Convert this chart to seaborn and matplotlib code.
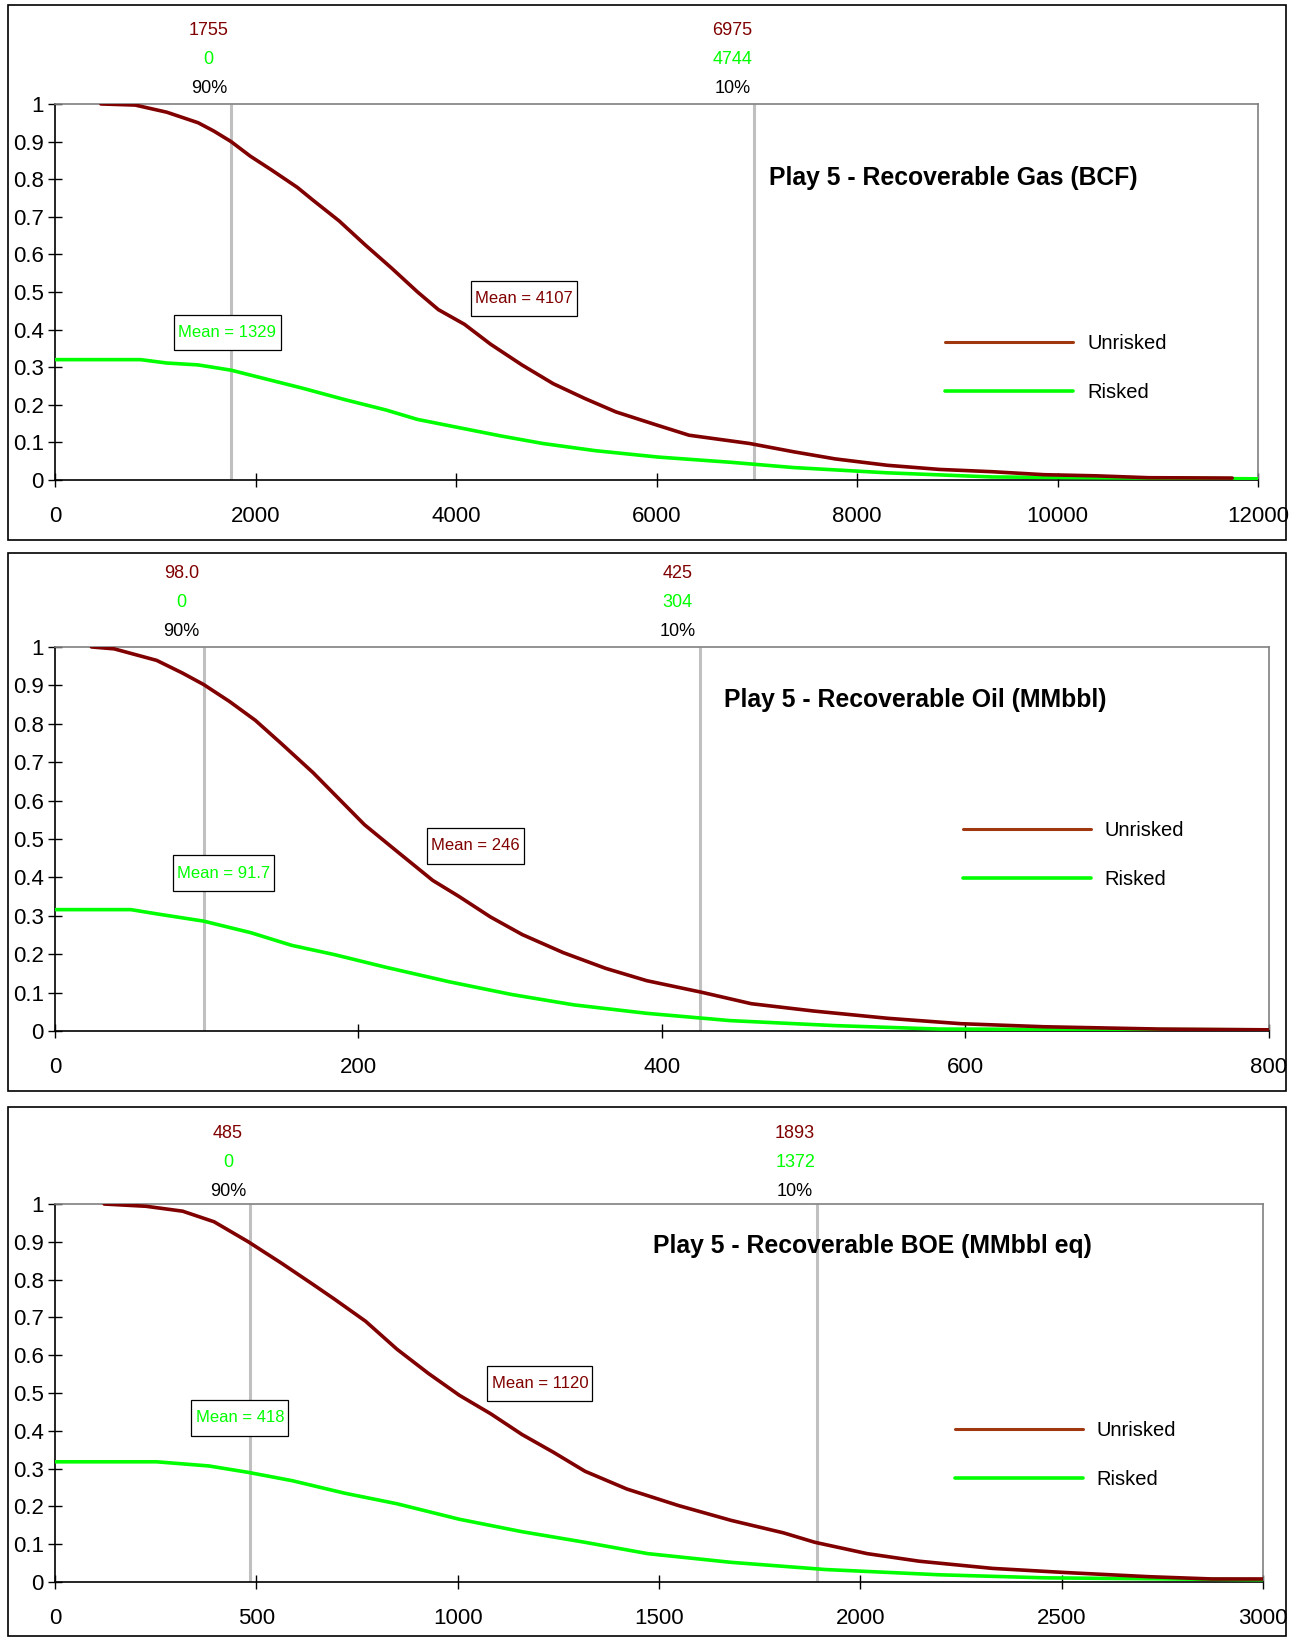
import matplotlib
matplotlib.use("Agg")
import matplotlib.pyplot as plt
from matplotlib.patches import Rectangle
from matplotlib.lines import Line2D
from matplotlib.path import Path
import seaborn as sns
import pandas as pd

sns.set_theme(style="white")
plt.rcParams['font.family'] = ['Liberation Sans', 'DejaVu Sans']
plt.rcParams['text.color'] = 'black'
plt.rcParams['xtick.color'] = 'black'
plt.rcParams['ytick.color'] = 'black'

DARKRED = "#800000"
GREEN = "#00ff00"
GREY = "#c0c0c0"

# ---- Gas (BCF)
gas_unrisked_x = [458, 800, 1115, 1427, 1583, 1755, 1948, 2156, 2417, 2573, 2833, 3094, 3354, 3615,
                  3823, 4083, 4344, 4656, 4969, 5281, 5594, 5990, 6323, 6927, 7365, 7781, 8302, 8823,
                  9344, 9865, 10385, 10906, 11740]
gas_unrisked_y = [1.0, 0.997, 0.978, 0.95, 0.928, 0.9, 0.861, 0.825, 0.778, 0.744, 0.689, 0.625, 0.564, 0.5,
                  0.453, 0.414, 0.361, 0.306, 0.256, 0.217, 0.181, 0.147, 0.119, 0.097, 0.075, 0.056, 0.039, 0.028,
                  0.022, 0.014, 0.011, 0.006, 0.005]
gas_risked_x = [0, 854, 1115, 1427, 1755, 2052, 2469, 2885, 3302, 3615, 4031, 4448, 4865, 5385, 6010,
                6740, 7365, 8302, 9344, 12000]
gas_risked_y = [0.32, 0.32, 0.311, 0.306, 0.292, 0.272, 0.244, 0.214, 0.186, 0.161, 0.139, 0.117, 0.097,
                0.078, 0.061, 0.047, 0.033, 0.019, 0.008, 0.003]

# ---- Oil (MMbbl)
oil_unrisked_x = [24, 39, 67, 84, 98, 115, 132, 149, 170, 187, 204, 225, 249, 266, 287, 308, 335, 363,
                  390, 426, 459, 500, 549, 597, 652, 728, 800]
oil_unrisked_y = [1.0, 0.995, 0.965, 0.932, 0.902, 0.858, 0.809, 0.749, 0.673, 0.605, 0.537, 0.469, 0.392,
                  0.351, 0.297, 0.251, 0.204, 0.163, 0.131, 0.101, 0.071, 0.052, 0.033, 0.019, 0.011, 0.005, 0.003]
oil_risked_x = [0, 50, 67, 98, 129, 156, 184, 218, 260, 301, 342, 390, 445, 514, 583, 800]
oil_risked_y = [0.316, 0.316, 0.305, 0.286, 0.256, 0.223, 0.199, 0.166, 0.128, 0.095, 0.068, 0.046,
                0.027, 0.014, 0.005, 0.003]

# ---- BOE (MMbbl eq)
boe_unrisked_x = [122, 226, 317, 395, 480, 563, 641, 693, 771, 849, 927, 1004, 1082, 1160, 1238, 1316,
                  1420, 1549, 1679, 1809, 1887, 2017, 2146, 2328, 2510, 2717, 2873, 3000]
boe_unrisked_y = [1.0, 0.994, 0.981, 0.953, 0.9, 0.843, 0.787, 0.749, 0.69, 0.616, 0.552, 0.494, 0.445,
                  0.39, 0.343, 0.293, 0.246, 0.202, 0.163, 0.13, 0.105, 0.075, 0.055, 0.036, 0.025, 0.014,
                  0.008, 0.008]
boe_risked_x = [0, 252, 382, 480, 589, 719, 849, 1004, 1160, 1316, 1472, 1679, 1913, 2198, 2458, 3000]
boe_risked_y = [0.318, 0.318, 0.307, 0.29, 0.268, 0.235, 0.207, 0.166, 0.133, 0.105, 0.075, 0.052,
                0.033, 0.019, 0.011, 0.006]

titles = ["Play 5 - Recoverable Gas (BCF)", "Play 5 - Recoverable Oil (MMbbl)",
          "Play 5 - Recoverable BOE (MMbbl eq)"]
xmax = [12000, 800, 3000]
xstep = [2000, 200, 500]
p90 = [1755, 98.0, 485]
p10 = [6975, 425, 1893]
p90_labels = [("1755", "0"), ("98.0", "0"), ("485", "0")]
p10_labels = [("6975", "4744"), ("425", "304"), ("1893", "1372")]
mean_unrisked = ["Mean = 4107", "Mean = 246", "Mean = 1120"]
mean_risked = ["Mean = 1329", "Mean = 91.7", "Mean = 418"]
mean_unrisked_pos = [(4677, 0.483), (277, 0.482), (1204, 0.525)]
mean_risked_pos = [(1719, 0.392), (111, 0.411), (459, 0.434)]
title_pos = [(0.7465, 0.803), (0.709, 0.861), (0.677, 0.889)]
legend_pos = [(0.740, 0.389), (0.748, 0.547), (0.745, 0.427)]
label_shift = [-2, -2, -4]

curves = [(gas_unrisked_x, gas_unrisked_y, gas_risked_x, gas_risked_y),
          (oil_unrisked_x, oil_unrisked_y, oil_risked_x, oil_risked_y),
          (boe_unrisked_x, boe_unrisked_y, boe_risked_x, boe_risked_y)]


def mean_box(x0, y0, width, height, mutation_size):
    # wide vertical padding, narrow horizontal padding like the Excel text boxes
    px = 0.25 * mutation_size
    py = 0.62 * mutation_size
    return Path([(x0 - px, y0 - py), (x0 + width + px, y0 - py), (x0 + width + px, y0 + height + py),
                 (x0 - px, y0 + height + py), (x0 - px, y0 - py)], closed=True)


fig = plt.figure(figsize=(12.98, 16.37), dpi=100)

axes_rects = [[0.0424, 0.7068, 0.927, 0.2297],
              [0.0424, 0.3702, 0.935, 0.2346],
              [0.0424, 0.0336, 0.9307, 0.2309]]
frames = [(0.006, 0.670, 0.985, 0.327), (0.006, 0.3335, 0.985, 0.3285), (0.006, 0.0006, 0.985, 0.3232)]

for i in range(3):
    fig.add_artist(Rectangle(frames[i][:2], frames[i][2], frames[i][3], transform=fig.transFigure,
                             fill=False, ec="black", lw=1.2))
    ax = fig.add_axes(axes_rects[i])
    ux, uy, rx, ry = curves[i]
    df_u = pd.DataFrame({"x": ux, "y": uy})
    df_r = pd.DataFrame({"x": rx, "y": ry})

    # percentile lines
    for xv in (p90[i], p10[i]):
        ax.vlines(xv, 0, 1.0, color=GREY, lw=2.2, zorder=1)

    sns.lineplot(data=df_r, x="x", y="y", ax=ax, color=GREEN, lw=2.6, estimator=None, zorder=3)
    sns.lineplot(data=df_u, x="x", y="y", ax=ax, color=DARKRED, lw=2.6, estimator=None, zorder=3)

    ax.set_xlim(0, xmax[i])
    ax.set_ylim(0, 1)
    ax.set_xticks(range(0, xmax[i] + 1, xstep[i]))
    ax.set_yticks([k / 10 for k in range(11)])
    ax.set_yticklabels(["0"] + [f"0.{k}" for k in range(1, 10)] + ["1"])
    ax.set_xlabel("")
    ax.set_ylabel("")
    ax.tick_params(axis="both", direction="inout", length=10, width=1.0, colors="black",
                   labelsize=16, left=True, bottom=True)
    ax.tick_params(axis="x", pad=14)
    ax.tick_params(axis="y", pad=3)
    for s in ("left", "bottom"):
        ax.spines[s].set_color("black")
        ax.spines[s].set_linewidth(1.2)
    for s in ("top", "right"):
        ax.spines[s].set_color("#808080")
        ax.spines[s].set_linewidth(1.2)

    # percentile labels above the axes
    sh = label_shift[i]
    for xv, (lu, lr), pct in ((p90[i], p90_labels[i], "90%"), (p10[i], p10_labels[i], "10%")):
        for txt, col, dy in ((lu, DARKRED, 55 + sh), (lr, GREEN, 34 + sh), (pct, "black", 13 + sh)):
            ax.annotate(txt, xy=(xv, 1), xycoords=("data", "axes fraction"), xytext=(-16, dy),
                        textcoords="offset points", ha="center", va="center", color=col, fontsize=13,
                        annotation_clip=False)

    # mean boxes
    ax.text(*mean_unrisked_pos[i], mean_unrisked[i], color=DARKRED, fontsize=12, ha="center", va="center",
            bbox=dict(boxstyle=mean_box, fc="white", ec="black", lw=0.9), zorder=5)
    ax.text(*mean_risked_pos[i], mean_risked[i], color=GREEN, fontsize=12, ha="center", va="center",
            bbox=dict(boxstyle=mean_box, fc="white", ec="black", lw=0.9), zorder=5)

    ax.text(*title_pos[i], titles[i], transform=ax.transAxes, ha="center", va="center",
            fontsize=17.8, fontweight="bold", color="black")

    handles = [Line2D([], [], color="#a0380f", lw=2.2), Line2D([], [], color=GREEN, lw=2.6)]
    ax.legend(handles, ["Unrisked", "Risked"], loc="upper left", bbox_to_anchor=legend_pos[i],
              frameon=False, fontsize=14.5, handlelength=6.35, handletextpad=0.68, labelspacing=1.5,
              borderpad=0, borderaxespad=0)

fig.savefig("out.png", dpi=100)
